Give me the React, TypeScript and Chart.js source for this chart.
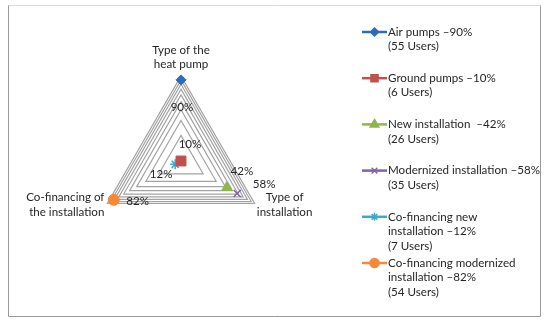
import React, { useEffect, useRef } from 'react';
import { Chart, registerables, RadialLinearScale } from 'chart.js';
import { drawPoint } from 'chart.js/helpers';

Chart.register(...registerables);

// Logarithmic radial scale (Excel-style log radar axis, base 10)
class LogRadialScale extends RadialLinearScale {
  static id = 'radialLog';
  getDistanceFromCenterForValue(value: any) {
    if (value === null || value === undefined || isNaN(value)) return NaN;
    const lmin = Math.log10(this.min);
    const lmax = Math.log10(this.max);
    return (this.drawingArea * (Math.log10(value) - lmin)) / (lmax - lmin);
  }
}
Chart.register(LogRadialScale as any);

// ---- data ----
const axisLabels = [
  ['Type of the', 'heat pump'],
  ['Type of', 'installation'],
  ['Co-financing of', 'the installation'],
];
const seriesNames = [
  'Air pumps',
  'Ground pumps',
  'New installation',
  'Modernized installation',
  'Co-financing new installation',
  'Co-financing modernized installation',
];
const airPumps = [90, null, null];
const groundPumps = [10, null, null];
const newInstallation = [null, 42, null];
const modernizedInstallation = [null, 58, null];
const coFinancingNew = [null, null, 12];
const coFinancingModernized = [null, null, 82];
const legendTexts = [
  ['Air pumps \u201390%', '(55 Users)'],
  ['Ground pumps \u201310%', '(6 Users)'],
  ['New installation  \u201342%', '(26 Users)'],
  ['Modernized installation \u201358%', '(35 Users)'],
  ['Co-financing new', 'installation \u201312%', '(7 Users)'],
  ['Co-financing modernized', 'installation \u201382%', '(54 Users)'],
];
const axisMin = 10;
const axisMax = 100;
const axisStep = 10;

const colors = ['#2C6DB5', '#C0504D', '#8DB849', '#8064A2', '#3FA9C5', '#F38A3A'];
const styles = ['rectRot', 'rect', 'triangle', 'crossRot', 'star', 'circle'];
const radii = [5, 7, 6, 5, 5, 5.5];
const legendRadii = [4, 5, 5, 4, 4, 4.5];
const labelOffsets = [
  [1, 27],
  [9, -17],
  [15, -16],
  [27, -9],
  [-14, 10],
  [24, 1],
];
const FONT = '11.6px Lato';
const TEXT = '#262626';

export default function App() {
  const ref = useRef<HTMLCanvasElement>(null);
  useEffect(() => {
    document.body.style.margin = '0';
    const seriesData = [airPumps, groundPumps, newInstallation, modernizedInstallation, coFinancingNew, coFinancingModernized];

    const decor = {
      id: 'decor',
      beforeDraw(chart: any) {
        const ctx = chart.ctx;
        ctx.save();
        ctx.fillStyle = '#fff';
        ctx.fillRect(0, 0, chart.width, chart.height);
        ctx.lineWidth = 1;
        ctx.strokeStyle = '#DADADA';
        ctx.beginPath();
        ctx.moveTo(8.5, 5.5);
        ctx.lineTo(540.5, 5.5);
        ctx.stroke();
        ctx.strokeStyle = '#9A9A9A';
        ctx.beginPath();
        ctx.moveTo(8.5, 5.5);
        ctx.lineTo(8.5, 316.5);
        ctx.lineTo(540.5, 316.5);
        ctx.lineTo(540.5, 5.5);
        ctx.stroke();
        ctx.restore();
      },
      afterDraw(chart: any) {
        const ctx = chart.ctx;
        const scale = chart.scales.r;
        ctx.save();
        ctx.font = FONT;
        ctx.fillStyle = TEXT;
        ctx.textBaseline = 'middle';
        // axis labels
        const axisOff = [
          [0, -26, 'center'],
          [30, -6, 'center'],
          [-3, -6, 'right'],
        ];
        axisLabels.forEach((lines, i) => {
          const p = scale.getPointPosition(i, scale.drawingArea);
          const [dx, dy, al] = axisOff[i] as any;
          ctx.textAlign = al;
          lines.forEach((t, j) => ctx.fillText(t, p.x + dx, p.y + dy + j * 14.5));
        });
        // data labels
        ctx.textAlign = 'center';
        seriesData.forEach((arr, k) => {
          arr.forEach((v, i) => {
            if (v === null) return;
            const p = scale.getPointPositionForValue(i, v);
            ctx.fillText(v + '%', p.x + labelOffsets[k][0], p.y + labelOffsets[k][1]);
          });
        });
        // legend
        legendTexts.forEach((lines, k) => {
          const y0 = 32 + k * 46.2;
          ctx.strokeStyle = colors[k];
          ctx.lineWidth = 2.5;
          ctx.beginPath();
          ctx.moveTo(362, y0);
          ctx.lineTo(387, y0);
          ctx.stroke();
          ctx.fillStyle = colors[k];
          ctx.strokeStyle = colors[k];
          ctx.lineWidth = 1.5;
          drawPoint(ctx, { pointStyle: styles[k] as any, rotation: 0, radius: legendRadii[k], borderWidth: 1.5 }, 374.5, y0);
          ctx.fillStyle = TEXT;
          ctx.textAlign = 'left';
          lines.forEach((t, j) => ctx.fillText(t, 388, y0 + j * 14.5));
        });
        ctx.restore();
      },
    };

    const chart = new Chart(ref.current!, {
      type: 'radar',
      data: {
        labels: axisLabels.map((l) => l.join(' ')),
        datasets: seriesData.map((d, k) => ({
          label: seriesNames[k],
          data: d as any,
          showLine: false,
          fill: false,
          borderWidth: 0,
          pointStyle: styles[k] as any,
          pointRadius: radii[k],
          pointBackgroundColor: colors[k],
          pointBorderColor: colors[k],
          pointBorderWidth: k === 3 || k === 4 ? 1.5 : 1,
          borderColor: colors[k],
          backgroundColor: colors[k],
        })),
      },
      options: {
        responsive: false,
        animation: false,
        layout: { padding: { left: 96, top: 76, right: 284, bottom: 77 } },
        plugins: { legend: { display: false }, tooltip: { enabled: false } },
        scales: {
          r: {
            type: 'radialLog' as any,
            min: axisMin,
            max: axisMax,
            beginAtZero: false,
            ticks: { display: false, stepSize: axisStep },
            grid: { color: '#A3A3A3', lineWidth: 1.2 },
            angleLines: { display: false },
            pointLabels: { display: false },
          },
        },
      },
      plugins: [decor],
    });
    return () => chart.destroy();
  }, []);
  return <canvas ref={ref} width={550} height={323} style={{ display: 'block' }} />;
}
